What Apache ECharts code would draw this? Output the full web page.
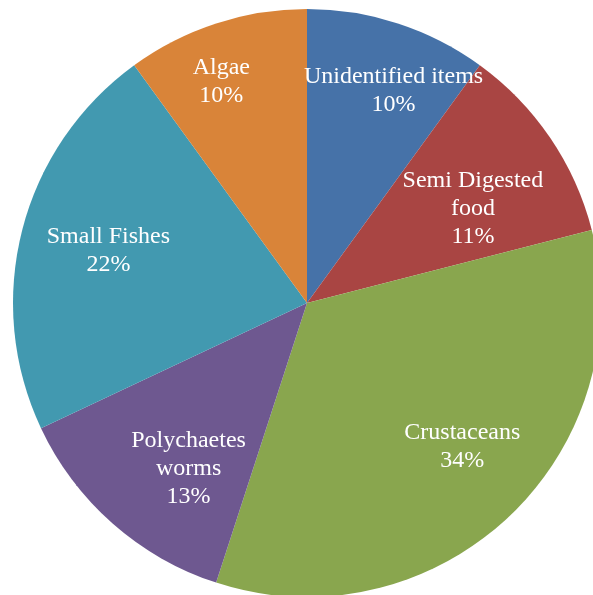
<!DOCTYPE html>
<html>
<head>
<meta charset="utf-8">
<script src="https://cdn.jsdelivr.net/npm/echarts@6/dist/echarts.min.js"></script>
<style>
  html, body { margin: 0; padding: 0; background: #fff; }
  #chart { width: 593px; height: 595px; }
</style>
</head>
<body>
<div id="chart"></div>
<script>
// food items, clockwise from 12 o'clock
var categories = ['Unidentified items', 'Semi Digested\nfood', 'Crustaceans', 'Polychaetes\nworms', 'Small Fishes', 'Algae'];
var values = [10, 11, 34, 13, 22, 10];
var colors = ['#4672a8', '#a94543', '#89a64e', '#6e5890', '#4299b0', '#d98439'];
// label placement: distance from centre (px) and a small turn off the mid angle (deg)
var labelDist = [231, 192, 210, 202, 206, 239];
var labelTurn = [4, 4, -4.5, -5.5, 1, -3];

var cx = 307, cy = 303, R = 294;

var total = values.reduce(function (a, b) { return a + b; }, 0);
var midAngles = [];
var acc = 0;
values.forEach(function (v) {
  midAngles.push((acc + v / 2) / total * Math.PI * 2);
  acc += v;
});

var chart = echarts.init(document.getElementById('chart'));
chart.setOption({
  animation: false,
  series: [{
    type: 'pie',
    center: [cx, cy],
    radius: [0, R],
    startAngle: 90,
    clockwise: true,
    silent: true,
    data: categories.map(function (c, i) {
      return { name: c, value: values[i], itemStyle: { color: colors[i] } };
    }),
    itemStyle: { borderWidth: 0 },
    label: {
      position: 'inside',
      formatter: '{b}\n{d}%',
      color: '#fff',
      fontFamily: 'Liberation Serif',
      fontSize: 24,
      lineHeight: 28,
      align: 'center'
    },
    labelLayout: function (p) {
      var i = p.dataIndex;
      var a = midAngles[i] + labelTurn[i] * Math.PI / 180;
      return {
        x: cx + Math.sin(a) * labelDist[i],
        y: cy - Math.cos(a) * labelDist[i] + 2,
        align: 'center',
        verticalAlign: 'middle'
      };
    }
  }]
});
</script>
</body>
</html>
